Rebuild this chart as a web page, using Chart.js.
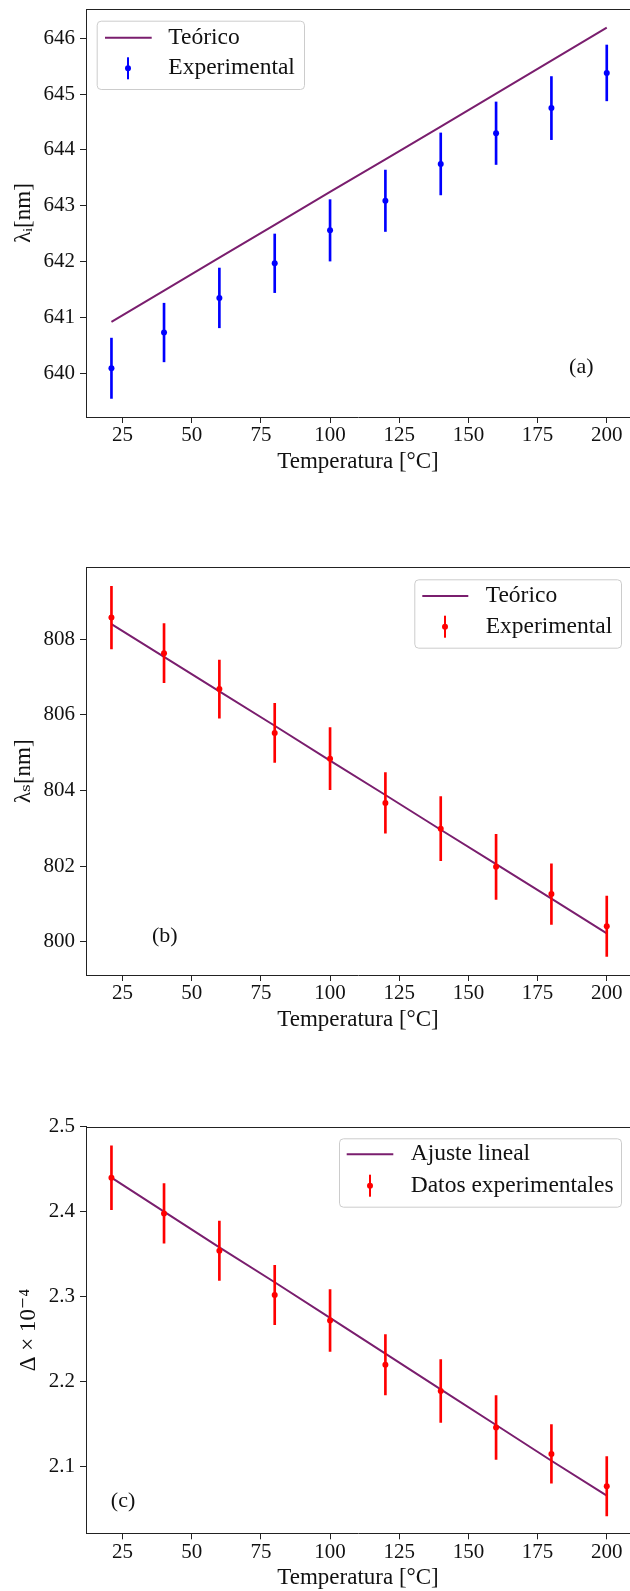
<!DOCTYPE html>
<html><head><meta charset="utf-8">
<script src="https://cdn.jsdelivr.net/npm/chart.js@4.4.0/dist/chart.umd.min.js"></script>
<style>
html,body{margin:0;padding:0;background:#fff;width:630px;height:1591px;overflow:hidden;position:relative;}
canvas{position:absolute;left:0;}
</style></head><body>
<canvas id="ca" width="630" height="559" style="top:0px"></canvas>
<canvas id="cb" width="630" height="559" style="top:559px"></canvas>
<canvas id="cc" width="630" height="559" style="top:1118px"></canvas>
<script>
// ---- data ----
const temperatures = [21, 40, 60, 80, 100, 120, 140, 160, 180, 200];
const xTicks = [25, 50, 75, 100, 125, 150, 175, 200];
const xTitle = 'Temperatura [°C]';

// (a) idler
const idlerExp = [640.09, 640.73, 641.35, 641.97, 642.56, 643.09, 643.75, 644.30, 644.75, 645.38];
const idlerErr = [0.54, 0.525, 0.535, 0.525, 0.55, 0.55, 0.555, 0.56, 0.565, 0.50];
const idlerTheo = [640.92, 641.48, 642.07, 642.66, 643.25, 643.83, 644.42, 645.01, 645.60, 646.19];
const idlerTicks = [640, 641, 642, 643, 644, 645, 646];

// (b) signal
const signalExp = [808.57, 807.63, 806.68, 805.52, 804.84, 803.67, 802.99, 801.98, 801.26, 800.41];
const signalErr = [0.83, 0.78, 0.77, 0.78, 0.82, 0.80, 0.85, 0.86, 0.80, 0.80];
const signalTheo = [808.40, 807.53, 806.62, 805.71, 804.79, 803.88, 802.96, 802.05, 801.14, 800.22];
const signalTicks = [800, 802, 804, 806, 808];

// (c) Delta
const deltaExp = [2.440, 2.398, 2.354, 2.302, 2.272, 2.220, 2.189, 2.146, 2.115, 2.077];
const deltaErr = [0.0375, 0.035, 0.035, 0.035, 0.0365, 0.0355, 0.037, 0.0375, 0.0345, 0.035];
const deltaFit = [2.440, 2.400, 2.358, 2.317, 2.275, 2.233, 2.191, 2.149, 2.107, 2.066];
const deltaTicks = [2.1, 2.2, 2.3, 2.4, 2.5];

// ---- styling ----
const SERIF = '"Liberation Serif", "DejaVu Serif", serif';
const AXIS = '#222222';
const PURPLE = 'rgb(122,30,110)';
const H = 559;
const X_MIN = 11.8, X_MAX = 208.4;

function makePanel(p) {
  const pts = p.exp.map((v, i) => ({x: temperatures[i], y: v}));
  const bars = p.exp.map((v, i) => ({x: temperatures[i], y: [v - p.err[i], v + p.err[i]]}));
  const line = p.theo.map((v, i) => ({x: temperatures[i], y: v}));

  const decor = {
    id: 'decor_' + p.id,
    afterDraw(chart) {
      const ctx = chart.ctx, a = chart.chartArea;
      ctx.save();
      // top spine
      ctx.strokeStyle = AXIS; ctx.lineWidth = 1;
      const ty = Math.round(a.top) + 0.5;
      ctx.beginPath(); ctx.moveTo(a.left, ty); ctx.lineTo(a.right, ty); ctx.stroke();
      // legend
      const L = p.legend;
      ctx.beginPath();
      if (ctx.roundRect) ctx.roundRect(L.x + 0.5, L.y + 0.5, L.w, L.h, 4); else ctx.rect(L.x + 0.5, L.y + 0.5, L.w, L.h);
      ctx.fillStyle = 'rgba(255,255,255,0.8)'; ctx.fill();
      ctx.strokeStyle = '#cccccc'; ctx.lineWidth = 1; ctx.stroke();
      ctx.strokeStyle = PURPLE; ctx.lineWidth = 2;
      ctx.beginPath(); ctx.moveTo(L.lx1, L.r1); ctx.lineTo(L.lx2, L.r1); ctx.stroke();
      ctx.fillStyle = p.color;
      ctx.fillRect(L.mx - 1, L.r2 - 11, 2, 22);
      ctx.beginPath(); ctx.arc(L.mx, L.r2, 3, 0, Math.PI * 2); ctx.fill();
      ctx.fillStyle = '#111'; ctx.font = '23.5px ' + SERIF; ctx.textBaseline = 'middle'; ctx.textAlign = 'left';
      ctx.fillText(p.labels[0], L.tx, L.r1);
      ctx.fillText(p.labels[1], L.tx, L.r2);
      // panel tag
      const xs = chart.scales.x.getPixelForValue(p.tag.x);
      const ys = chart.scales.y.getPixelForValue(p.tag.y);
      ctx.font = '22px ' + SERIF; ctx.textAlign = 'center';
      ctx.fillText(p.tag.text, xs, ys);
      ctx.restore();
    }
  };

  new Chart(document.getElementById(p.id), {
    type: 'scatter',
    data: {datasets: [
      {type: 'scatter', data: pts, pointRadius: 3, pointHoverRadius: 3, pointBackgroundColor: p.color, pointBorderWidth: 0},
      {type: 'bar', data: bars, backgroundColor: p.color, borderWidth: 0, barThickness: 2, grouped: false},
      {type: 'line', data: line, borderColor: PURPLE, borderWidth: 2, pointRadius: 0, fill: false, tension: 0}
    ]},
    options: {
      responsive: false, animation: false, events: [],
      layout: {autoPadding: false, padding: {top: p.areaTop, left: 0, right: 0, bottom: 0}},
      plugins: {legend: {display: false}, tooltip: {enabled: false}},
      scales: {
        x: {
          type: 'linear', min: X_MIN, max: X_MAX, offset: false,
          grid: {display: true, drawOnChartArea: false, drawTicks: true, tickLength: 6, tickWidth: 1, tickColor: AXIS, offset: false},
          border: {display: true, color: AXIS, width: 1},
          ticks: {font: {family: SERIF, size: 21, lineHeight: 1.2}, color: '#111', padding: p.xTickPad, maxRotation: 0, autoSkip: false,
                  callback: v => String(v)},
          afterBuildTicks: s => { s.ticks = xTicks.map(v => ({value: v})); },
          title: {display: true, text: xTitle, color: '#111', font: {family: SERIF, size: 23, lineHeight: 1.2},
                  padding: {top: 0, bottom: H - p.areaBottom - 45 - 13.8}},
          afterFit: s => { s.height = H - p.areaBottom; s.paddingLeft = 0; s.paddingRight = 0; }
        },
        y: {
          type: 'linear', position: 'left', min: p.yMin, max: p.yMax,
          grid: {display: true, drawOnChartArea: false, drawTicks: true, tickLength: 6, tickWidth: 1, tickColor: AXIS},
          border: {display: true, color: AXIS, width: 1},
          ticks: {font: {family: SERIF, size: 21, lineHeight: 1.2}, color: '#111', padding: 5, autoSkip: false,
                  callback: v => p.fmt(v)},
          afterBuildTicks: s => { s.ticks = p.yTicks.map(v => ({value: v})); },
          title: {display: true, text: p.yTitle, color: '#111', font: {family: SERIF, size: 23, lineHeight: 1.2},
                  padding: {top: p.yTitlePad, bottom: 0}},
          afterFit: s => { s.width = 86; s.paddingTop = 0; s.paddingBottom = 0; }
        }
      }
    },
    plugins: [decor]
  });
}

makePanel({
  id: 'ca', color: '#0000ff', exp: idlerExp, err: idlerErr, theo: idlerTheo,
  yTicks: idlerTicks, yMin: 639.217, yMax: 646.525, fmt: v => String(v),
  yTitle: 'λᵢ[nm]', yTitlePad: 9.7, areaTop: 9, areaBottom: 417, xTickPad: 0,
  labels: ['Teórico', 'Experimental'],
  legend: {x: 96.7, y: 20.7, w: 207.3, h: 68.3, lx1: 105, lx2: 151.7, r1: 37.7, r2: 68.3, mx: 128, tx: 168.3},
  tag: {text: '(a)', x: 190.8, y: 640.1}
});
makePanel({
  id: 'cb', color: '#ff0000', exp: signalExp, err: signalErr, theo: signalTheo,
  yTicks: signalTicks, yMin: 799.12, yMax: 809.90, fmt: v => String(v),
  yTitle: 'λₛ[nm]', yTitlePad: 10.2, areaTop: 8.3, areaBottom: 416, xTickPad: 0,
  labels: ['Teórico', 'Experimental'],
  legend: {x: 414.3, y: 20.3, w: 206.7, h: 68.4, lx1: 422.3, lx2: 468.3, r1: 37, r2: 67.7, mx: 445, tx: 485.7},
  tag: {text: '(b)', x: 40.3, y: 800.15}
});
makePanel({
  id: 'cc', color: '#ff0000', exp: deltaExp, err: deltaErr, theo: deltaFit,
  yTicks: deltaTicks, yMin: 2.0216, yMax: 2.5, fmt: v => v.toFixed(1),
  yTitle: 'Δ × 10⁻⁴', yTitlePad: 15.2, areaTop: 8.7, areaBottom: 415.3, xTickPad: 1,
  labels: ['Ajuste lineal', 'Datos experimentales'],
  legend: {x: 339, y: 20.3, w: 282, h: 68.4, lx1: 346.7, lx2: 393.3, r1: 36.3, r2: 67.7, mx: 370, tx: 410.7},
  tag: {text: '(c)', x: 25.2, y: 2.0596}
});
</script>
</body></html>
